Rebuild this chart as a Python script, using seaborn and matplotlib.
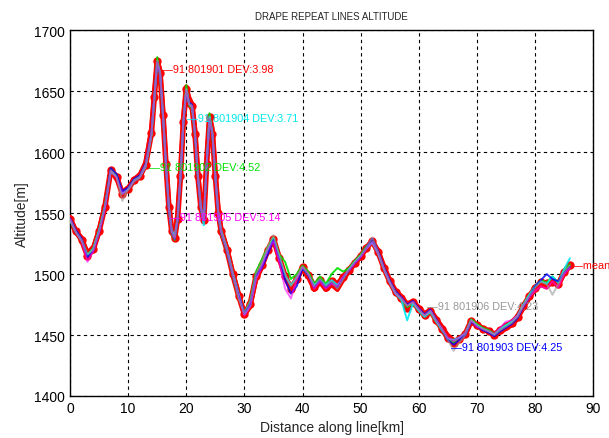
import numpy as np
import pandas as pd
import matplotlib
matplotlib.use("Agg")
import matplotlib.pyplot as plt
import seaborn as sns

# Distance along the line (km): 1 km steps, 0.5 km steps over the ridge section
distance = (list(range(0, 14))
            + [14, 14.5, 15, 15.5, 16, 16.5, 17, 17.5, 18, 18.5, 19, 19.5, 20,
               20.5, 21, 21.5, 22, 22.5, 23, 23.5, 24, 24.5, 25, 25.5, 26]
            + list(range(27, 87)))

# Altitude (m) of each repeat line
alt_801901 = [1547, 1536, 1530, 1518, 1522, 1537, 1557, 1584, 1578, 1568, 1571, 1578, 1582, 1592,
              1620, 1650, 1676, 1668, 1635, 1595, 1560, 1538, 1532, 1550, 1585, 1630, 1654, 1645, 1640, 1620, 1585, 1558, 1548, 1595, 1630, 1620, 1585, 1555, 1538,
              1522, 1502, 1485, 1466, 1473, 1495, 1505, 1518, 1528, 1513, 1497, 1488, 1495, 1504, 1497, 1487, 1493, 1487, 1491, 1487, 1495, 1502, 1508, 1514, 1521, 1526, 1520, 1507, 1496, 1487, 1482, 1476, 1478, 1473, 1468, 1471, 1464, 1457, 1450, 1446, 1446, 1450, 1460, 1459, 1456, 1454, 1451, 1452, 1455, 1458, 1463, 1472, 1480, 1487, 1491, 1489, 1494, 1490, 1500, 1506]
alt_801902 = [1544, 1534, 1527, 1516, 1521, 1536, 1556, 1586, 1581, 1566, 1569, 1576, 1579, 1589,
              1614, 1644, 1678, 1662, 1628, 1588, 1553, 1533, 1528, 1543, 1578, 1622, 1655, 1638, 1636, 1612, 1578, 1553, 1543, 1588, 1632, 1612, 1578, 1548, 1533,
              1518, 1498, 1481, 1468, 1478, 1502, 1512, 1522, 1530, 1516, 1510, 1496, 1500, 1507, 1502, 1492, 1498, 1492, 1500, 1505, 1502, 1505, 1511, 1516, 1523, 1526, 1517, 1504, 1493, 1484, 1479, 1473, 1476, 1470, 1465, 1469, 1461, 1454, 1447, 1444, 1448, 1452, 1463, 1459, 1456, 1454, 1451, 1455, 1458, 1461, 1466, 1475, 1483, 1490, 1495, 1493, 1498, 1493, 1503, 1508]
alt_801903 = [1546, 1536, 1529, 1514, 1519, 1534, 1554, 1587, 1582, 1568, 1571, 1578, 1581, 1591,
              1616, 1646, 1674, 1664, 1629, 1589, 1554, 1534, 1529, 1544, 1579, 1624, 1650, 1641, 1639, 1614, 1579, 1554, 1544, 1589, 1627, 1614, 1579, 1549, 1534,
              1519, 1499, 1482, 1468, 1476, 1499, 1505, 1516, 1528, 1512, 1495, 1484, 1490, 1505, 1499, 1489, 1495, 1489, 1493, 1489, 1497, 1503, 1509, 1514, 1522, 1529, 1519, 1506, 1495, 1486, 1481, 1475, 1478, 1472, 1467, 1471, 1463, 1455, 1446, 1442, 1446, 1450, 1461, 1457, 1454, 1452, 1449, 1453, 1456, 1459, 1464, 1473, 1481, 1490, 1495, 1500, 1496, 1494, 1501, 1506]
alt_801904 = [1544, 1535, 1528, 1515, 1521, 1536, 1555, 1584, 1580, 1566, 1570, 1577, 1580, 1588,
              1614, 1644, 1673, 1665, 1631, 1591, 1556, 1536, 1531, 1546, 1581, 1626, 1651, 1640, 1637, 1616, 1581, 1556, 1540, 1591, 1629, 1616, 1581, 1551, 1536,
              1521, 1501, 1484, 1467, 1474, 1497, 1507, 1519, 1529, 1514, 1499, 1491, 1497, 1505, 1499, 1491, 1495, 1491, 1495, 1491, 1497, 1504, 1510, 1515, 1521, 1526, 1517, 1504, 1493, 1484, 1479, 1462, 1476, 1470, 1465, 1469, 1461, 1454, 1447, 1446, 1448, 1451, 1462, 1458, 1455, 1453, 1450, 1455, 1458, 1461, 1466, 1475, 1483, 1490, 1494, 1492, 1498, 1493, 1504, 1513]
alt_801905 = [1545, 1534, 1527, 1510, 1519, 1534, 1554, 1585, 1579, 1566, 1569, 1576, 1579, 1589,
              1615, 1645, 1674, 1664, 1629, 1589, 1554, 1534, 1529, 1544, 1579, 1624, 1651, 1639, 1637, 1614, 1579, 1554, 1544, 1589, 1627, 1614, 1579, 1549, 1534,
              1519, 1499, 1482, 1466, 1474, 1496, 1506, 1520, 1527, 1510, 1488, 1480, 1496, 1506, 1500, 1488, 1494, 1488, 1492, 1490, 1498, 1503, 1509, 1514, 1521, 1526, 1517, 1504, 1493, 1484, 1480, 1474, 1477, 1471, 1466, 1470, 1462, 1455, 1448, 1445, 1448, 1452, 1462, 1457, 1455, 1453, 1451, 1456, 1461, 1462, 1466, 1474, 1481, 1486, 1490, 1488, 1494, 1489, 1500, 1505]
alt_801906 = [1545, 1535, 1528, 1516, 1520, 1535, 1555, 1585, 1580, 1560, 1570, 1577, 1580, 1590,
              1615, 1645, 1675, 1665, 1630, 1590, 1555, 1535, 1530, 1545, 1580, 1625, 1652, 1640, 1638, 1615, 1580, 1555, 1545, 1590, 1628, 1615, 1580, 1550, 1535,
              1520, 1500, 1480, 1468, 1478, 1500, 1510, 1522, 1532, 1515, 1500, 1490, 1498, 1506, 1500, 1490, 1496, 1490, 1494, 1488, 1496, 1504, 1510, 1515, 1522, 1530, 1518, 1505, 1494, 1485, 1480, 1474, 1477, 1471, 1466, 1470, 1462, 1455, 1446, 1437, 1444, 1450, 1462, 1458, 1455, 1453, 1450, 1454, 1457, 1460, 1465, 1474, 1482, 1489, 1494, 1492, 1483, 1492, 1502, 1507]

line_ids = ["91 801901", "91 801902", "91 801903", "91 801904", "91 801905", "91 801906"]
line_devs = [3.98, 4.52, 4.25, 3.71, 5.14, 4.23]
line_colors = ["#ff0000", "#00e000", "#0000ff", "#00e8f0", "#ff00ff", "#999999"]
# Where each line's tag is written (km, m)
tag_pos = [(15.8, 1668), (13.5, 1588), (65.6, 1440), (20.2, 1628), (17.0, 1547), (61.4, 1474)]

df = pd.DataFrame({"distance": distance,
                   "91 801901": alt_801901, "91 801902": alt_801902,
                   "91 801903": alt_801903, "91 801904": alt_801904,
                   "91 801905": alt_801905, "91 801906": alt_801906})
df["mean"] = df[line_ids].mean(axis=1)

sns.set_style("white")
plt.rcParams["font.family"] = ["Liberation Sans", "DejaVu Sans"]

fig = plt.figure(figsize=(6.09, 4.39), dpi=100)
ax = fig.add_axes([0.115, 0.0957, 0.859, 0.833])

# Mean line with dot markers underneath the repeat lines
sns.lineplot(data=df, x="distance", y="mean", ax=ax, color="#ff0000",
             linewidth=4.0, marker="o", markersize=6, markeredgewidth=0,
             estimator=None, sort=False, zorder=2)
sns.lineplot(data=df, x="distance", y="91 801901", ax=ax, color="#ff0000",
             linewidth=3.0, estimator=None, sort=False, zorder=3)
draw_order = [1, 3, 2, 4, 5]
line_alpha = {1: 0.9, 3: 0.9, 2: 0.8, 4: 0.6, 5: 0.6}
for i in draw_order:
    sns.lineplot(data=df, x="distance", y=line_ids[i], ax=ax, color=line_colors[i],
                 linewidth=1.4, alpha=line_alpha[i], estimator=None, sort=False, zorder=4)

for (xk, ya), lid, dev, col in zip(tag_pos, line_ids, line_devs, line_colors):
    ax.text(xk, ya, f"\u2014{lid} DEV:{dev:.2f}", color=col, fontsize=7.8,
            va="center", ha="left", zorder=6)
ax.text(df["distance"].iloc[-1] + 0.4, df["mean"].iloc[-1], "\u2014mean",
        color="#ff0000", fontsize=7.8, va="center", ha="left", zorder=6, clip_on=False)

ax.set_xlim(0, 90)
ax.set_ylim(1400, 1700)
ax.set_xticks(np.arange(0, 91, 10))
ax.set_yticks(np.arange(1400, 1701, 50))
ax.grid(True, color="black", linestyle=(0, (3, 3)), linewidth=0.8)
ax.set_axisbelow(True)
for s in ax.spines.values():
    s.set_color("black")
    s.set_linewidth(1.0)
ax.tick_params(axis="both", labelsize=10, colors="black", direction="in", length=4)
ax.set_xlabel("Distance along line[km]", fontsize=10)
ax.set_ylabel("Altitude[m]", fontsize=10)
ax.set_title("DRAPE REPEAT LINES ALTITUDE", fontsize=7, pad=8)

fig.savefig("out.png", dpi=100)
